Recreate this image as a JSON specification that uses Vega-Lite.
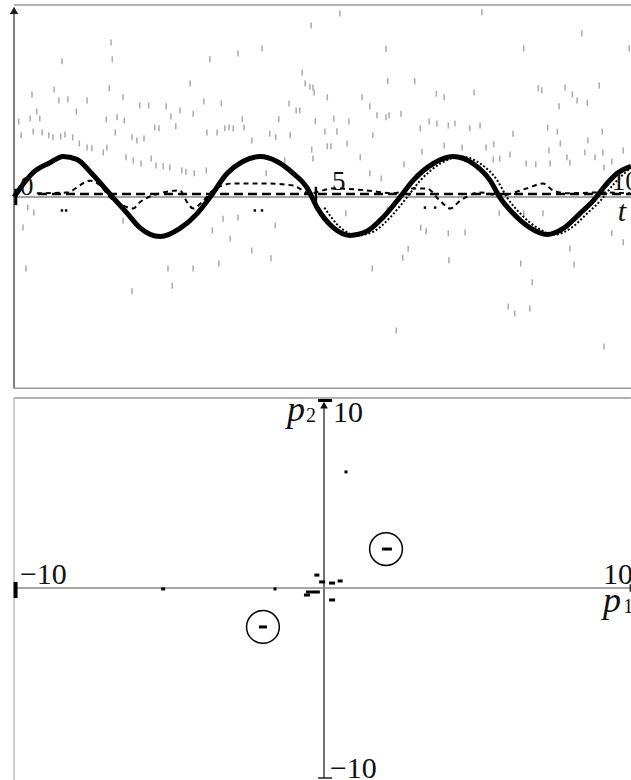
{
  "$schema": "https://vega.github.io/schema/vega-lite/v6.json",
  "width": 631,
  "height": 780,
  "autosize": {"type": "fit", "contains": "padding"},
  "padding": 0,
  "background": "white",
  "config": {"view": {"stroke": null}},
  "datasets": {
    "sine": [
      {"t":0,"y":0},{"t":0.1,"y":0.21},{"t":0.32,"y":0.6},{"t":0.6,"y":0.84},{"t":0.82,"y":0.99},{"t":1.05,"y":0.92},{"t":1.27,"y":0.62},{"t":1.49,"y":0.26},{"t":1.65,"y":-0.01},{"t":1.89,"y":-0.4},{"t":2.1,"y":-0.75},{"t":2.44,"y":-0.97},{"t":2.77,"y":-0.77},{"t":3.06,"y":-0.4},{"t":3.27,"y":-0.01},{"t":3.56,"y":0.58},{"t":3.82,"y":0.87},{"t":4.11,"y":0.99},{"t":4.39,"y":0.87},{"t":4.66,"y":0.58},{"t":4.89,"y":0.23},{"t":5.06,"y":-0.26},{"t":5.33,"y":-0.75},{"t":5.61,"y":-0.94},{"t":5.89,"y":-0.84},{"t":6.16,"y":-0.5},{"t":6.44,"y":-0.01},{"t":6.66,"y":0.4},{"t":7.0,"y":0.82},{"t":7.33,"y":0.99},{"t":7.66,"y":0.82},{"t":7.95,"y":0.4},{"t":8.11,"y":-0.01},{"t":8.33,"y":-0.4},{"t":8.61,"y":-0.75},{"t":8.9,"y":-0.92},{"t":9.17,"y":-0.77},{"t":9.45,"y":-0.4},{"t":9.67,"y":-0.09},{"t":9.9,"y":0.33},{"t":10.07,"y":0.58},{"t":10.3,"y":0.75}
    ],
    "sine2": [
      {"t":5.18,"y":-0.26},{"t":5.45,"y":-0.75},{"t":5.73,"y":-0.94},{"t":6.01,"y":-0.84},{"t":6.28,"y":-0.5},{"t":6.56,"y":-0.01},{"t":6.78,"y":0.4},{"t":7.12,"y":0.82},{"t":7.45,"y":0.99},{"t":7.78,"y":0.82},{"t":8.07,"y":0.4},{"t":8.23,"y":-0.01},{"t":8.45,"y":-0.4},{"t":8.73,"y":-0.75},{"t":9.02,"y":-0.92},{"t":9.29,"y":-0.77},{"t":9.57,"y":-0.4},{"t":9.79,"y":-0.09},{"t":10.02,"y":0.33},{"t":10.19,"y":0.58},{"t":10.3,"y":0.72}
    ],
    "wave": [
      {"t":0.38,"y":0.09},{"t":0.88,"y":0.11},{"t":1.27,"y":0.4},{"t":1.44,"y":0.28},{"t":1.6,"y":-0.01},{"t":1.82,"y":-0.21},{"t":1.99,"y":-0.28},{"t":2.1,"y":-0.13},{"t":2.32,"y":0.04},{"t":2.77,"y":0.16},{"t":2.89,"y":-0.13},{"t":2.99,"y":-0.28},{"t":3.16,"y":-0.09},{"t":3.32,"y":0.16},{"t":3.66,"y":0.33},{"t":4.22,"y":0.33},{"t":4.66,"y":0.28},{"t":4.94,"y":0.09},{"t":5.33,"y":0.21},{"t":5.89,"y":0.16},{"t":6.33,"y":0.09},{"t":6.66,"y":0.21},{"t":6.89,"y":0.21},{"t":7.11,"y":-0.09},{"t":7.28,"y":-0.28},{"t":7.45,"y":-0.09},{"t":7.78,"y":0.11},{"t":8.11,"y":0.04},{"t":8.56,"y":0.21},{"t":8.83,"y":0.33},{"t":9.0,"y":0.16},{"t":9.23,"y":0.09},{"t":9.78,"y":0.11},{"t":10.28,"y":0.09}
    ],
    "flat": [{"t":0.4,"y":0.07},{"t":10.3,"y":0.07}],
    "grey": [
      {"t":4.96,"y":4.2},{"t":1.62,"y":3.78},{"t":1.64,"y":3.37},{"t":0.8,"y":3.32},{"t":3.74,"y":3.51},{"t":4.14,"y":3.64},{"t":3.27,"y":3.37},{"t":4.81,"y":3.05},{"t":4.86,"y":2.78},{"t":4.94,"y":2.7},{"t":5.01,"y":2.56},{"t":2.94,"y":2.78},{"t":0.3,"y":2.51},{"t":0.67,"y":2.63},{"t":1.59,"y":2.66},{"t":0.75,"y":2.36},{"t":0.9,"y":2.39},{"t":1.22,"y":2.36},{"t":1.82,"y":2.44},{"t":3.17,"y":2.34},{"t":3.46,"y":2.29},{"t":4.59,"y":2.29},{"t":4.71,"y":2.12},{"t":4.77,"y":2.12},{"t":0.38,"y":2.09},{"t":1.04,"y":2.09},{"t":2.1,"y":2.24},{"t":2.25,"y":2.24},{"t":2.54,"y":2.22},{"t":2.77,"y":2.12},{"t":2.99,"y":2.04},{"t":0.08,"y":1.85},{"t":0.27,"y":1.92},{"t":0.43,"y":1.92},{"t":1.54,"y":1.9},{"t":1.72,"y":1.95},{"t":1.84,"y":1.87},{"t":2.62,"y":1.97},{"t":3.81,"y":1.9},{"t":4.42,"y":1.9},{"t":5.03,"y":1.85},{"t":0.12,"y":1.51},{"t":0.32,"y":1.6},{"t":0.47,"y":1.58},{"t":0.58,"y":1.51},{"t":0.65,"y":1.46},{"t":0.78,"y":1.48},{"t":0.85,"y":1.53},{"t":0.98,"y":1.46},{"t":1.09,"y":1.31},{"t":1.22,"y":1.21},{"t":1.3,"y":1.19},{"t":1.49,"y":1.09},{"t":1.55,"y":1.21},{"t":1.69,"y":1.58},{"t":1.97,"y":1.46},{"t":2.05,"y":1.38},{"t":2.17,"y":1.43},{"t":2.35,"y":1.7},{"t":2.42,"y":1.68},{"t":2.7,"y":1.73},{"t":3.22,"y":1.58},{"t":3.39,"y":1.58},{"t":3.52,"y":1.68},{"t":3.59,"y":1.7},{"t":3.66,"y":1.68},{"t":3.84,"y":1.7},{"t":3.97,"y":1.38},{"t":4.27,"y":1.55},{"t":4.37,"y":1.46},{"t":4.61,"y":1.51},{"t":4.97,"y":1.16},{"t":4.99,"y":0.94},{"t":1.87,"y":0.97},{"t":1.99,"y":0.89},{"t":2.12,"y":0.82},{"t":2.29,"y":0.94},{"t":2.37,"y":0.77},{"t":2.49,"y":0.75},{"t":2.6,"y":0.72},{"t":2.8,"y":0.65},{"t":2.87,"y":0.62},{"t":3.01,"y":0.58},{"t":3.21,"y":0.65},{"t":4.21,"y":0.58},{"t":4.52,"y":0.89},
      {"t":0.23,"y":-0.26},{"t":0.33,"y":-0.38},{"t":0.15,"y":-0.75},{"t":3.31,"y":-0.82},{"t":3.49,"y":-0.53},{"t":3.74,"y":-0.5},{"t":3.61,"y":-1.02},{"t":4.36,"y":-0.7},{"t":3.97,"y":-1.31},{"t":4.29,"y":-1.5},{"t":0.2,"y":-1.75},{"t":2.57,"y":-1.75},{"t":2.99,"y":-1.75},{"t":3.42,"y":-1.63},{"t":2.64,"y":-2.17},{"t":1.97,"y":-2.31},{"t":1.82,"y":-0.58},
      {"t":5.44,"y":4.49},{"t":7.81,"y":4.52},{"t":6.21,"y":3.63},{"t":8.51,"y":3.64},{"t":9.48,"y":4.0},{"t":10.27,"y":3.64},{"t":6.24,"y":2.83},{"t":6.69,"y":2.83},{"t":4.99,"y":2.68},{"t":5.23,"y":2.44},{"t":5.81,"y":2.44},{"t":5.94,"y":2.22},{"t":7.05,"y":2.53},{"t":7.18,"y":2.44},{"t":7.68,"y":2.56},{"t":8.75,"y":2.66},{"t":8.81,"y":2.61},{"t":9.2,"y":2.68},{"t":9.32,"y":2.51},{"t":9.4,"y":2.36},{"t":9.57,"y":2.31},{"t":9.77,"y":2.73},{"t":9.1,"y":2.22},{"t":5.34,"y":1.92},{"t":5.59,"y":1.85},{"t":6.06,"y":2.0},{"t":6.21,"y":1.95},{"t":6.26,"y":2.0},{"t":6.46,"y":2.04},{"t":6.78,"y":1.68},{"t":6.93,"y":1.85},{"t":7.06,"y":1.8},{"t":7.25,"y":1.75},{"t":7.36,"y":1.8},{"t":7.61,"y":1.68},{"t":7.78,"y":1.75},{"t":8.33,"y":1.55},{"t":8.91,"y":1.7},{"t":9.07,"y":1.6},{"t":9.82,"y":1.6},{"t":5.19,"y":1.6},{"t":5.39,"y":1.6},{"t":5.99,"y":1.51},{"t":5.23,"y":1.24},{"t":5.29,"y":1.24},{"t":5.56,"y":1.31},{"t":5.78,"y":0.97},{"t":6.51,"y":0.8},{"t":6.81,"y":1.11},{"t":7.18,"y":1.26},{"t":7.48,"y":1.21},{"t":7.88,"y":1.21},{"t":8.01,"y":1.29},{"t":8.28,"y":1.04},{"t":8.55,"y":0.82},{"t":8.71,"y":0.8},{"t":8.95,"y":0.82},{"t":8.93,"y":1.14},{"t":9.12,"y":1.31},{"t":9.53,"y":1.09},{"t":9.58,"y":1.38},{"t":9.7,"y":0.97},{"t":9.83,"y":1.09},{"t":9.85,"y":0.72},{"t":9.98,"y":0.87},{"t":10.17,"y":1.14},{"t":9.28,"y":0.84},{"t":9.23,"y":0.97},{"t":8.0,"y":0.92},{"t":8.11,"y":0.94},{"t":5.94,"y":0.58},{"t":6.13,"y":0.45},
      {"t":5.54,"y":-0.4},{"t":6.23,"y":-0.31},{"t":6.79,"y":-0.75},{"t":6.88,"y":-0.84},{"t":7.25,"y":-0.89},{"t":7.53,"y":-0.87},{"t":8.1,"y":-0.4},{"t":8.51,"y":-0.4},{"t":8.83,"y":-0.4},{"t":6.58,"y":-1.27},{"t":6.49,"y":-1.49},{"t":5.98,"y":-1.75},{"t":7.26,"y":-1.55},{"t":8.46,"y":-1.63},{"t":8.65,"y":-2.09},{"t":9.28,"y":-1.26},{"t":9.35,"y":-1.65},{"t":8.25,"y":-2.68},{"t":8.36,"y":-2.85},{"t":8.61,"y":-2.73},{"t":6.38,"y":-3.27},{"t":9.85,"y":-3.66},{"t":9.98,"y":-0.89},{"t":10.17,"y":-1.11}
    ],
    "bdots": [
      {"t":0.8,"y":-0.33},{"t":0.87,"y":-0.33},{"t":4.02,"y":-0.33},{"t":4.14,"y":-0.33},{"t":6.86,"y":-0.26},{"t":7.03,"y":-0.26}
    ],
    "topRules": [
      {"x":0,"x2":0,"y":-4.68,"y2":4.55,"c":"#555","w":1.5},
      {"x":0,"x2":10.3,"y":0,"y2":0,"c":"#888","w":1.5},
      {"x":0,"x2":10.3,"y":4.7,"y2":4.7,"c":"#999","w":1.5},
      {"x":0,"x2":10.3,"y":-4.68,"y2":-4.68,"c":"#999","w":1.5},
      {"x":5.04,"x2":5.04,"y":-0.25,"y2":0.25,"c":"#000","w":2.5},
      {"x":0.03,"x2":0.03,"y":-0.2,"y2":0.2,"c":"#000","w":3}
    ],
    "topArrow": [{"t":0,"y":4.57}],
    "topText": [
      {"t":0.1,"y":0.04,"s":"0"},{"t":5.31,"y":0.16,"s":"5"},{"t":9.98,"y":0.16,"s":"10"}
    ],
    "topItal": [{"t":10.08,"y":-0.6,"s":"t"}],
    "botRules": [
      {"x":-10,"x2":-10,"y":-10.105,"y2":10,"c":"#bbb","w":1.5},
      {"x":-10,"x2":9.9,"y":10,"y2":10,"c":"#999","w":1.5},
      {"x":0,"x2":0,"y":-10,"y2":9.6,"c":"#444","w":1.5},
      {"x":-10,"x2":9.9,"y":0,"y2":0,"c":"#888","w":1.5},
      {"x":-0.19,"x2":0.26,"y":9.87,"y2":9.87,"c":"#000","w":3},
      {"x":-0.19,"x2":0.26,"y":-10,"y2":-10,"c":"#222","w":1.5},
      {"x":-9.95,"x2":-9.95,"y":-0.53,"y2":0.32,"c":"#000","w":4},
      {"x":9.88,"x2":9.88,"y":-0.2,"y2":0.2,"c":"#333","w":1.5}
    ],
    "botArrow": [{"p1":0,"p2":9.63}],
    "phase": [
      {"p1":-5.19,"p2":-0.05,"w":4},{"p1":-1.58,"p2":-0.05,"w":3},{"p1":0.71,"p2":6.11,"w":3},
      {"p1":2.06,"p2":2.05,"w":8},{"p1":1.9,"p2":2.05,"w":2},{"p1":-1.97,"p2":-2.05,"w":8},
      {"p1":-0.23,"p2":0.68,"w":5},{"p1":-0.06,"p2":0.32,"w":6},{"p1":0.26,"p2":0.26,"w":6},{"p1":0.52,"p2":0.37,"w":5},{"p1":-0.45,"p2":-0.21,"w":8},{"p1":-0.23,"p2":-0.21,"w":6},{"p1":0.26,"p2":-0.63,"w":6},{"p1":-0.55,"p2":-0.37,"w":6}
    ],
    "circles": [{"p1":2.0,"p2":2.05},{"p1":-1.97,"p2":-2.05}],
    "botText": [
      {"p1":-9.81,"p2":0.21,"s":"−10","f":30},{"p1":9.0,"p2":0.21,"s":"10","f":30},{"p1":0.29,"p2":8.74,"s":"10","f":30},{"p1":0.19,"p2":-10.0,"s":"−10","f":30},{"p1":9.65,"p2":-1.32,"s":"1","f":20},{"p1":-0.58,"p2":8.74,"s":"2","f":20}
    ],
    "botItal": [{"p1":9.0,"p2":-1.26,"s":"p"},{"p1":-1.19,"p2":8.79,"s":"p"}]
  },
  "layer": [
    {
      "layer": [
        {"data": {"name": "topRules"}, "mark": {"type": "rule", "clip": true},
         "encoding": {"x": {"field": "x", "type": "quantitative", "scale": {"domain": [-0.234, 10.3], "nice": false, "zero": false}, "axis": null},
                      "x2": {"field": "x2"},
                      "y": {"field": "y", "type": "quantitative", "scale": {"domain": [-14.272, 4.822], "nice": false, "zero": false}, "axis": null},
                      "y2": {"field": "y2"},
                      "color": {"field": "c", "type": "nominal", "scale": null},
                      "strokeWidth": {"field": "w", "type": "quantitative", "scale": null}}},
        {"data": {"name": "grey"}, "mark": {"type": "tick", "orient": "vertical", "size": 6, "thickness": 1.5, "color": "#aaaaaa", "opacity": 1, "clip": true},
         "encoding": {"x": {"field": "t", "type": "quantitative"}, "y": {"field": "y", "type": "quantitative"}}},
        {"data": {"name": "flat"}, "mark": {"type": "line", "color": "#000", "strokeWidth": 2.5, "strokeDash": [9, 5], "clip": true},
         "encoding": {"x": {"field": "t", "type": "quantitative"}, "y": {"field": "y", "type": "quantitative"}}},
        {"data": {"name": "wave"}, "mark": {"type": "line", "color": "#000", "strokeWidth": 2, "strokeDash": [5, 4], "interpolate": "monotone", "clip": true},
         "encoding": {"x": {"field": "t", "type": "quantitative"}, "y": {"field": "y", "type": "quantitative"}}},
        {"data": {"name": "sine2"}, "mark": {"type": "line", "color": "#000", "strokeWidth": 2, "strokeDash": [2, 2], "interpolate": "monotone", "clip": true},
         "encoding": {"x": {"field": "t", "type": "quantitative"}, "y": {"field": "y", "type": "quantitative"}}},
        {"data": {"name": "sine"}, "mark": {"type": "line", "color": "#000", "strokeWidth": 5, "interpolate": "monotone", "clip": true},
         "encoding": {"x": {"field": "t", "type": "quantitative"}, "y": {"field": "y", "type": "quantitative"}}},
        {"data": {"name": "bdots"}, "mark": {"type": "square", "color": "#000", "size": 6, "opacity": 1, "clip": true},
         "encoding": {"x": {"field": "t", "type": "quantitative"}, "y": {"field": "y", "type": "quantitative"}}},
        {"data": {"name": "topArrow"}, "mark": {"type": "point", "shape": "triangle-up", "filled": true, "color": "#222", "size": 70, "opacity": 1, "clip": true},
         "encoding": {"x": {"field": "t", "type": "quantitative"}, "y": {"field": "y", "type": "quantitative"}}},
        {"data": {"name": "topText"}, "mark": {"type": "text", "align": "left", "baseline": "alphabetic", "font": "Liberation Serif", "fontSize": 27, "color": "#111", "clip": true},
         "encoding": {"x": {"field": "t", "type": "quantitative"}, "y": {"field": "y", "type": "quantitative"}, "text": {"field": "s"}}},
        {"data": {"name": "topItal"}, "mark": {"type": "text", "align": "left", "baseline": "alphabetic", "font": "Liberation Serif", "fontSize": 30, "fontStyle": "italic", "color": "#111", "clip": true},
         "encoding": {"x": {"field": "t", "type": "quantitative"}, "y": {"field": "y", "type": "quantitative"}, "text": {"field": "s"}}}
      ]
    },
    {
      "layer": [
        {"data": {"name": "botRules"}, "mark": {"type": "rule", "clip": true},
         "encoding": {"x": {"field": "x", "type": "quantitative", "scale": {"domain": [-10.452, 9.903], "nice": false, "zero": false}, "axis": null},
                      "x2": {"field": "x2"},
                      "y": {"field": "y", "type": "quantitative", "scale": {"domain": [-10.105, 30.947], "nice": false, "zero": false}, "axis": null},
                      "y2": {"field": "y2"},
                      "color": {"field": "c", "type": "nominal", "scale": null},
                      "strokeWidth": {"field": "w", "type": "quantitative", "scale": null}}},
        {"data": {"name": "botArrow"}, "mark": {"type": "point", "shape": "triangle-up", "filled": true, "color": "#111", "size": 60, "opacity": 1, "clip": true},
         "encoding": {"x": {"field": "p1", "type": "quantitative"}, "y": {"field": "p2", "type": "quantitative"}}},
        {"data": {"name": "phase"}, "mark": {"type": "tick", "orient": "horizontal", "thickness": 3, "color": "#000", "opacity": 1, "clip": true},
         "encoding": {"x": {"field": "p1", "type": "quantitative"}, "y": {"field": "p2", "type": "quantitative"},
                      "size": {"field": "w", "type": "quantitative", "scale": null}}},
        {"data": {"name": "circles"}, "mark": {"type": "point", "shape": "circle", "filled": false, "color": "#000", "strokeWidth": 1.5, "size": 1075, "opacity": 1, "clip": true},
         "encoding": {"x": {"field": "p1", "type": "quantitative"}, "y": {"field": "p2", "type": "quantitative"}}},
        {"data": {"name": "botText"}, "mark": {"type": "text", "align": "left", "baseline": "alphabetic", "font": "Liberation Serif", "color": "#111", "clip": true},
         "encoding": {"x": {"field": "p1", "type": "quantitative"}, "y": {"field": "p2", "type": "quantitative"}, "text": {"field": "s"},
                      "size": {"field": "f", "type": "quantitative", "scale": null}}},
        {"data": {"name": "botItal"}, "mark": {"type": "text", "align": "left", "baseline": "alphabetic", "font": "Liberation Serif", "fontSize": 36, "fontStyle": "italic", "color": "#111", "clip": true},
         "encoding": {"x": {"field": "p1", "type": "quantitative"}, "y": {"field": "p2", "type": "quantitative"}, "text": {"field": "s"}}}
      ]
    }
  ],
  "resolve": {"scale": {"x": "independent", "y": "independent"}}
}
